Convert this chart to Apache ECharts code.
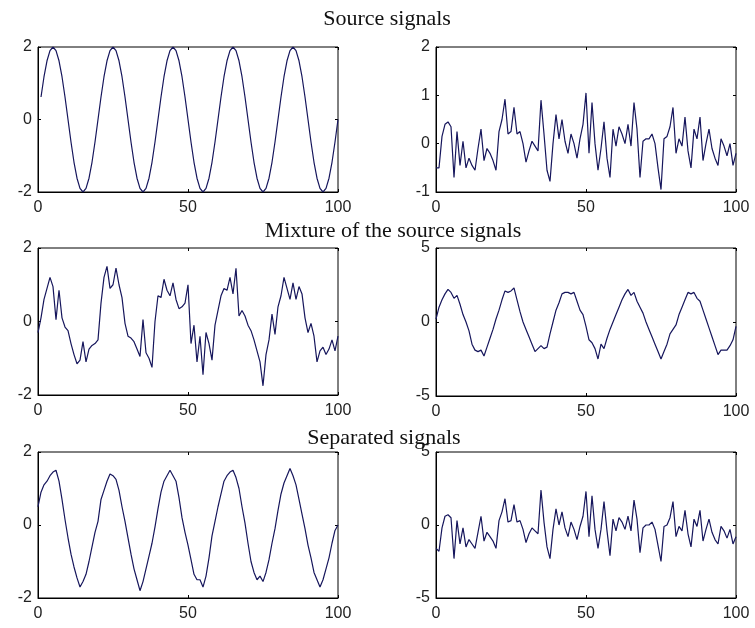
<!DOCTYPE html>
<html>
<head>
<meta charset="utf-8">
<script src="https://cdn.jsdelivr.net/npm/echarts@6/dist/echarts.min.js"></script>
<style>
  html, body { margin: 0; padding: 0; background: #fff; }
  #main { width: 755px; height: 628px; }
</style>
</head>
<body>
<div id="main"></div>
<script>
// source 1: clean sine, sampled at x = 1..100
var sourceSine = [
  0.62, 1.18, 1.62, 1.9, 2, 1.9, 1.62, 1.18, 0.62, 0, -0.62, -1.18, -1.62, -1.9, -2, -1.9, -1.62, -1.18, -0.62, 0,
  0.62, 1.18, 1.62, 1.9, 2, 1.9, 1.62, 1.18, 0.62, 0, -0.62, -1.18, -1.62, -1.9, -2, -1.9, -1.62, -1.18, -0.62, 0,
  0.62, 1.18, 1.62, 1.9, 2, 1.9, 1.62, 1.18, 0.62, 0, -0.62, -1.18, -1.62, -1.9, -2, -1.9, -1.62, -1.18, -0.62, 0,
  0.62, 1.18, 1.62, 1.9, 2, 1.9, 1.62, 1.18, 0.62, 0, -0.62, -1.18, -1.62, -1.9, -2, -1.9, -1.62, -1.18, -0.62, 0,
  0.62, 1.18, 1.62, 1.9, 2, 1.9, 1.62, 1.18, 0.62, 0, -0.62, -1.18, -1.62, -1.9, -2, -1.9, -1.62, -1.18, -0.62, 0
];
// source 2: noise, x = 0..100
var sourceNoise = [
  -0.5, -0.5, 0.15, 0.4, 0.45, 0.35, -0.7, 0.25, -0.45, 0.05,
  -0.5, -0.3, -0.45, -0.55, -0.1, 0.3, -0.35, -0.1, -0.2, -0.35,
  -0.55, 0.25, 0.5, 0.92, 0.2, 0.25, 0.75, 0.2, 0.25, 0.0,
  -0.38, -0.15, 0.05, -0.05, -0.15, 0.9, 0.2, -0.55, -0.78, 0.0,
  0.6, 0.1, 0.5, 0.05, -0.2, 0.2, 0.0, -0.3, 0.1, 0.4,
  1.05, -0.2, 0.85, 0.0, -0.55, -0.1, 0.45, -0.3, -0.7, 0.3,
  -0.05, 0.35, 0.2, 0.0, 0.4, -0.05, 0.85, 0.3, -0.7, 0.05,
  0.1, 0.1, 0.2, 0.0, -0.5, -0.95, 0.1, 0.15, 0.35, 0.75,
  -0.2, 0.1, -0.05, 0.55, -0.15, -0.5, 0.3, 0.1, 0.55, -0.35,
  0.0, 0.3, -0.1, -0.3, -0.45, 0.1, -0.05, -0.25, 0.0, -0.45,
  -0.2
];
// mixtures
var mixA = [
  -0.3, 0.1, 0.6, 0.9, 1.2, 0.95, 0.05, 0.85, 0.1, -0.15,
  -0.25, -0.6, -0.9, -1.15, -1.05, -0.55, -1.1, -0.75, -0.65, -0.6,
  -0.5, 0.5, 1.2, 1.5, 0.9, 1.0, 1.45, 1.0, 0.65, -0.05,
  -0.4, -0.45, -0.55, -0.75, -0.95, 0.05, -0.85, -1.0, -1.25, 0.0,
  0.7, 0.65, 1.15, 0.85, 0.7, 1.05, 0.6, 0.35, 0.4, 0.5,
  1.0, -0.6, -0.1, -1.1, -0.4, -1.45, -0.3, -0.6, -1.05, -0.1,
  0.3, 0.7, 0.9, 0.85, 1.2, 0.75, 1.45, 0.15, 0.3, 0.15,
  -0.1, -0.25, -0.5, -0.8, -1.1, -1.75, -0.9, -0.5, 0.2, -0.35,
  0.4, 0.7, 1.2, 0.9, 0.6, 1.05, 0.6, 0.95, 0.75, 0.1,
  -0.3, -0.05, -0.4, -1.1, -0.8, -0.7, -0.9, -0.75, -0.5, -0.8,
  -0.4
];
var mixB = [
  0.2, 1.0, 1.5, 1.9, 2.2, 2.0, 1.6, 1.8, 1.2, 0.5,
  0.0, -0.6, -1.5, -1.9, -2.0, -1.9, -2.3, -1.7, -1.1, -0.5,
  0.2, 0.8, 1.5, 2.1, 2.0, 2.1, 2.3, 1.5, 0.7, 0.0,
  -0.5, -1.0, -1.5, -2.0, -1.8, -1.6, -1.8, -1.7, -0.8, 0.0,
  0.8, 1.3, 1.9, 2.0, 2.0, 1.9, 2.0, 1.4, 0.8, 0.5,
  -0.3, -1.2, -1.4, -1.8, -2.5, -1.5, -1.8, -1.1, -0.5, 0.0,
  0.5, 1.0, 1.5, 1.9, 2.2, 1.8, 2.0, 1.4, 1.0, 0.6,
  0.0, -0.5, -1.0, -1.5, -2.0, -2.5, -2.0, -1.5, -0.8, -0.5,
  -0.2, 0.5, 1.0, 1.5, 2.0, 1.9, 2.0, 1.6, 1.4, 0.8,
  0.2, -0.4, -1.0, -1.6, -2.2, -1.9, -1.9, -1.9, -1.6, -1.2,
  -0.3
];
// separated signals
var sepA = [
  0.5, 0.9, 1.1, 1.2, 1.35, 1.45, 1.5, 1.2, 0.7, 0.15,
  -0.35, -0.8, -1.15, -1.45, -1.7, -1.55, -1.35, -1.0, -0.6, -0.2,
  0.1, 0.7, 0.95, 1.2, 1.4, 1.35, 1.25, 0.95, 0.5, 0.1,
  -0.35, -0.8, -1.2, -1.5, -1.8, -1.55, -1.2, -0.85, -0.5, -0.05,
  0.45, 0.9, 1.2, 1.35, 1.5, 1.35, 1.2, 0.75, 0.2, -0.2,
  -0.55, -0.95, -1.35, -1.5, -1.5, -1.7, -1.4, -0.9, -0.3, 0.1,
  0.5, 0.85, 1.2, 1.35, 1.45, 1.5, 1.3, 1.0, 0.5, 0.05,
  -0.5, -1.0, -1.3, -1.5, -1.4, -1.55, -1.3, -0.95, -0.5, -0.1,
  0.4, 0.85, 1.15, 1.35, 1.55, 1.35, 1.1, 0.7, 0.3, -0.1,
  -0.55, -0.9, -1.3, -1.5, -1.7, -1.5, -1.2, -0.9, -0.5, -0.15,
  0.0
];
var sepB = [
  -1.6, -1.8, -0.2, 0.6, 0.7, 0.5, -2.3, 0.3, -1.3, -0.2,
  -1.5, -1.0, -1.3, -1.6, -0.5, 0.6, -1.1, -0.5, -0.8, -1.1,
  -1.6, 0.3, 0.9, 1.8, 0.2, 0.3, 1.4, 0.2, 0.3, -0.3,
  -1.2, -0.6, -0.2, -0.4, -0.6, 2.4, 0.2, -1.5, -2.3, -0.3,
  1.1, 0.0, 0.9, -0.2, -0.8, 0.2, -0.3, -1.0, -0.1, 0.6,
  2.3, -0.8, 2.0, -0.3, -1.6, -0.3, 1.6, -0.4, -2.1, 0.4,
  -0.4, 0.5, 0.2, -0.3, 0.6, -0.4, 1.7, 0.4, -1.9, -0.2,
  0.0, 0.0, 0.2, -0.3, -1.4, -2.5, -0.1, 0.0, 0.5, 1.6,
  -0.8, -0.1, -0.4, 1.0, -0.6, -1.5, 0.4, -0.1, 1.0, -1.1,
  -0.3, 0.4, -0.5, -1.0, -1.3, -0.1, -0.4, -0.9, -0.3, -1.3,
  -0.8
];

var titles = ['Source signals', 'Mixture of the source signals', 'Separated signals'];
var xTicks = { min: 0, max: 100, interval: 50 };

var panels = [
  { data: sourceSine, x0: 1, left: 38, top: 47, height: 145, yMin: -2, yMax: 2, yStep: 2 },
  { data: sourceNoise, x0: 0, left: 436, top: 47, height: 145, yMin: -1, yMax: 2, yStep: 1 },
  { data: mixA, x0: 0, left: 38, top: 248, height: 147, yMin: -2, yMax: 2, yStep: 2 },
  { data: mixB, x0: 0, left: 436, top: 248, height: 148, yMin: -5, yMax: 5, yStep: 5 },
  { data: sepA, x0: 0, left: 38, top: 452, height: 146, yMin: -2, yMax: 2, yStep: 2 },
  { data: sepB, x0: 0, left: 436, top: 452, height: 146, yMin: -5, yMax: 5, yStep: 5 }
];

var labelStyle = { color: '#222', fontSize: 16, fontFamily: 'Liberation Sans, Arial, sans-serif' };
var lineCol = '#16165c';
var tick = { inside: true, length: 3, lineStyle: { color: '#000' } };

var grid = [], xAxis = [], yAxis = [], series = [];
panels.forEach(function (p, i) {
  grid.push({ left: p.left, top: p.top, width: 300, height: p.height, show: true, borderColor: '#000', borderWidth: 1, backgroundColor: '#fff' });
  // bottom / left axes with labels
  xAxis.push({
    type: 'value', gridIndex: i, min: xTicks.min, max: xTicks.max, interval: xTicks.interval,
    axisLine: { onZero: false, lineStyle: { color: '#000' } },
    axisTick: tick,
    axisLabel: Object.assign({ margin: 8 }, labelStyle),
    splitLine: { show: false }
  });
  yAxis.push({
    type: 'value', gridIndex: i, min: p.yMin, max: p.yMax, interval: p.yStep,
    axisLine: { show: true, onZero: false, lineStyle: { color: '#000' } },
    axisTick: Object.assign({ show: true }, tick),
    axisLabel: Object.assign({ margin: 6 }, labelStyle),
    splitLine: { show: false }
  });
  // top / right: ticks only, like the matlab box
  xAxis.push({
    type: 'value', gridIndex: i, position: 'top', min: xTicks.min, max: xTicks.max, interval: xTicks.interval,
    axisLine: { show: false, onZero: false }, axisTick: tick, axisLabel: { show: false }, splitLine: { show: false }
  });
  yAxis.push({
    type: 'value', gridIndex: i, position: 'right', min: p.yMin, max: p.yMax, interval: p.yStep,
    axisLine: { show: false, onZero: false }, axisTick: Object.assign({ show: true }, tick),
    axisLabel: { show: false }, splitLine: { show: false }
  });
  series.push({
    type: 'line', xAxisIndex: i * 2, yAxisIndex: i * 2, showSymbol: false, animation: false,
    lineStyle: { color: lineCol, width: 1.2 },
    data: p.data.map(function (v, k) { return [k + p.x0, v]; })
  });
});

var titleFont = { fontFamily: 'Liberation Serif, Times New Roman, serif', fontSize: 22, fontWeight: 'normal', color: '#111' };

var chart = echarts.init(document.getElementById('main'));
chart.setOption({
  backgroundColor: '#fff',
  animation: false,
  title: [
    { text: titles[0], left: 387, top: 8, textAlign: 'center', textStyle: titleFont, padding: 0 },
    { text: titles[1], left: 393, top: 220, textAlign: 'center', textStyle: titleFont, padding: 0 },
    { text: titles[2], left: 384, top: 427, textAlign: 'center', textStyle: titleFont, padding: 0 }
  ],
  grid: grid,
  xAxis: xAxis,
  yAxis: yAxis,
  series: series
});
</script>
</body>
</html>
